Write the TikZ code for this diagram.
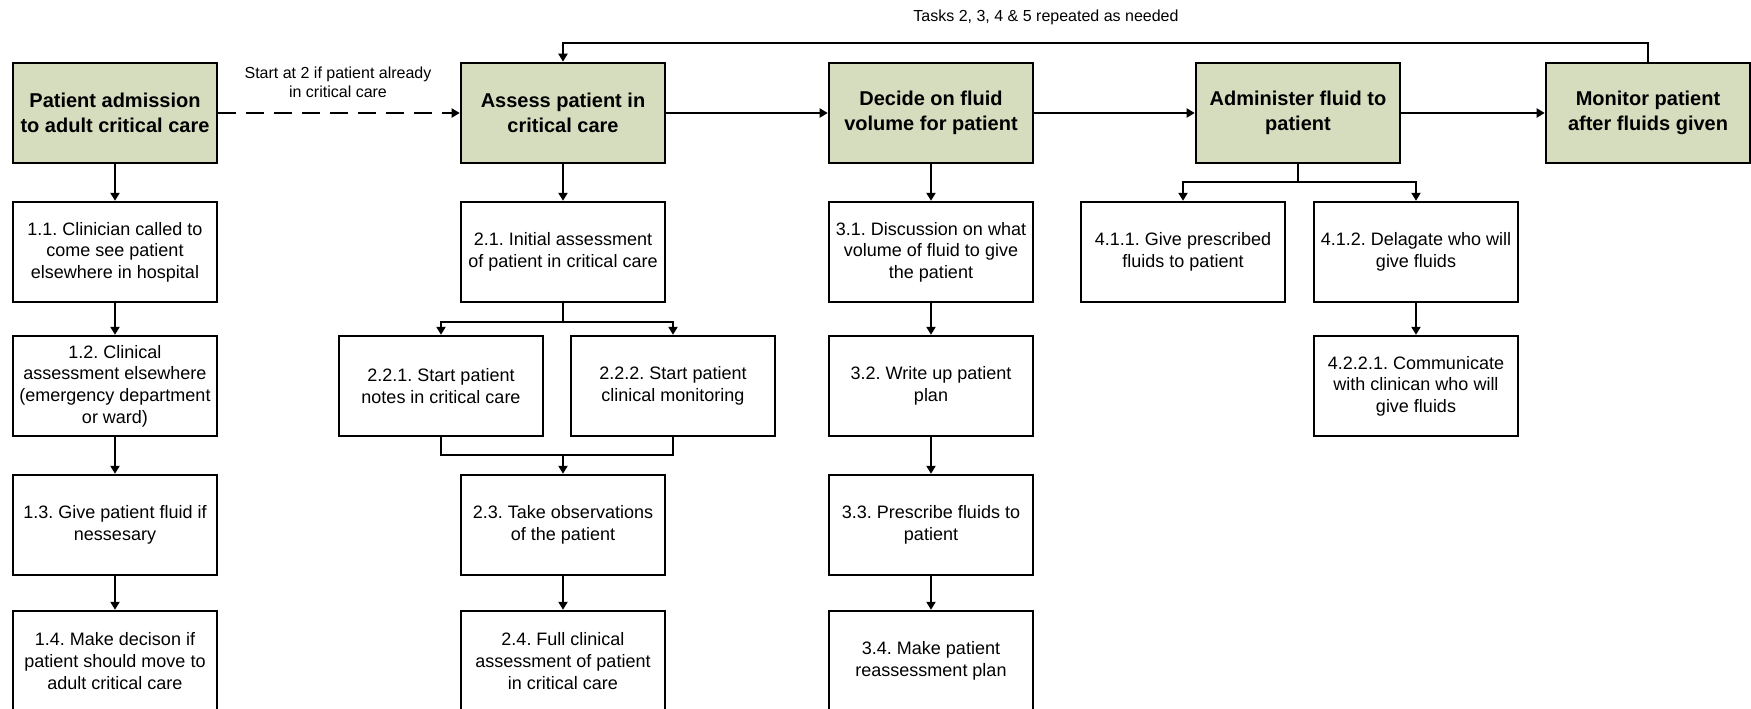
\documentclass[tikz,border=0pt]{standalone}
\usepackage{fontspec}
\setmainfont{Liberation Sans}
\usepackage{tikz}
\usetikzlibrary{arrows.meta,positioning}
\definecolor{boxgreen}{RGB}{214,220,190}
\frenchspacing

\begin{document}
\begin{tikzpicture}[x=0.5pt, y=-0.5pt, >={Triangle[length=4pt,width=4.5pt]},
    topbox/.style={draw, line width=1.3pt, fill=boxgreen, minimum width=102pt, minimum height=50pt,
        inner sep=1pt, align=center, font=\fontsize{10}{12.5}\selectfont\bfseries},
    subbox/.style={draw, line width=1.2pt, fill=white, minimum width=102pt, minimum height=50pt,
        inner sep=1pt, align=center, font=\fontsize{9}{10.8}\selectfont},
    note/.style={align=center, font=\fontsize{8}{9.5}\selectfont},
    link/.style={line width=1pt, ->}]
 			\useasboundingbox (0,0) rectangle (1751,708);
 			\path
 			(115,113)  coordinate (1)
 			(563,113)  coordinate (2)
 			(931,113)  coordinate (3)
 			(1298,113) coordinate (4)
 			(1648,113) coordinate (5)
 			(563,455)  coordinate (j2)
 			(1298,182) coordinate (j4)
 			;

 			% main tasks
 			\node[topbox] (T1) at (1) {Patient admission\\to adult critical care};
 			\node[topbox] (T2) at (2) {Assess patient in\\critical care};
 			\node[topbox] (T3) at (3) {Decide on fluid\\volume for patient};
 			\node[topbox] (T4) at (4) {Administer fluid to\\patient};
 			\node[topbox] (T5) at (5) {Monitor patient\\after fluids given};

 			% sub tasks
 			\node[subbox] (T11) at (115,252) {1.1. Clinician called to\\come see patient\\elsewhere in hospital};
 			\node[subbox] (T12) at (115,386) {1.2. Clinical\\assessment elsewhere\\(emergency department\\or ward)};
 			\node[subbox] (T13) at (115,525) {1.3. Give patient fluid if\\nessesary};
 			\node[subbox] (T14) at (115,661) {1.4. Make decison if\\patient should move to\\adult critical care};

 			\node[subbox] (T21) at (563,252) {2.1. Initial assessment\\of patient in critical care};
 			\node[subbox] (T221) at (441,386) {2.2.1. Start patient\\notes in critical care};
 			\node[subbox] (T222) at (673,386) {2.2.2. Start patient\\clinical monitoring};
 			\node[subbox] (T23) at (563,525) {2.3. Take observations\\of the patient};
 			\node[subbox] (T24) at (563,661) {2.4. Full clinical\\assessment of patient\\in critical care};

 			\node[subbox] (T31) at (931,252) {3.1. Discussion on what\\volume of fluid to give\\the patient};
 			\node[subbox] (T32) at (931,386) {3.2. Write up patient\\plan};
 			\node[subbox] (T33) at (931,525) {3.3. Prescribe fluids to\\patient};
 			\node[subbox] (T34) at (931,661) {3.4. Make patient\\reassessment plan};

 			\node[subbox] (T411) at (1183,252) {4.1.1. Give prescribed\\fluids to patient};
 			\node[subbox] (T412) at (1416,252) {4.1.2. Delagate who will\\give fluids};
 			\node[subbox] (T4221) at (1416,386) {4.2.2.1. Communicate\\with clinican who will\\give fluids};

 			% labels
 			\node[note] (L1) at (338,82) {Start at 2 if patient already\\in critical care};
 			\node[note] (L2) at (1046,17) {Tasks 2, 3, 4 \& 5 repeated as needed};

 			% top row
 			\draw[link,dashed,dash pattern=on 9pt off 5pt] (T1) to (T2);
 			\draw[link] (T2) to (T3);
 			\draw[link] (T3) to (T4);
 			\draw[link] (T4) to (T5);
 			\draw[link] (T5.north) -- ++(0,-19) -| (T2.north);

 			% column 1
 			\draw[link] (T1) to (T11);
 			\draw[link] (T11) to (T12);
 			\draw[link] (T12) to (T13);
 			\draw[link] (T13) to (T14);

 			% column 2
 			\draw[link] (T2) to (T21);
 			\draw[link] (T21.south) -- ++(0,19) -| (T221.north);
 			\draw[link] (T21.south) -- ++(0,19) -| (T222.north);
 			\draw[line width=1pt] (T221.south) |- (j2) -| (T222.south);
 			\draw[link] (j2) to (T23);
 			\draw[link] (T23) to (T24);

 			% column 3
 			\draw[link] (T3) to (T31);
 			\draw[link] (T31) to (T32);
 			\draw[link] (T32) to (T33);
 			\draw[link] (T33) to (T34);

 			% column 4
 			\draw[line width=1pt] (T4) to (j4);
 			\draw[link] (j4) -| (T411);
 			\draw[link] (j4) -| (T412);
 			\draw[link] (T412) to (T4221);
\end{tikzpicture}
\end{document}
